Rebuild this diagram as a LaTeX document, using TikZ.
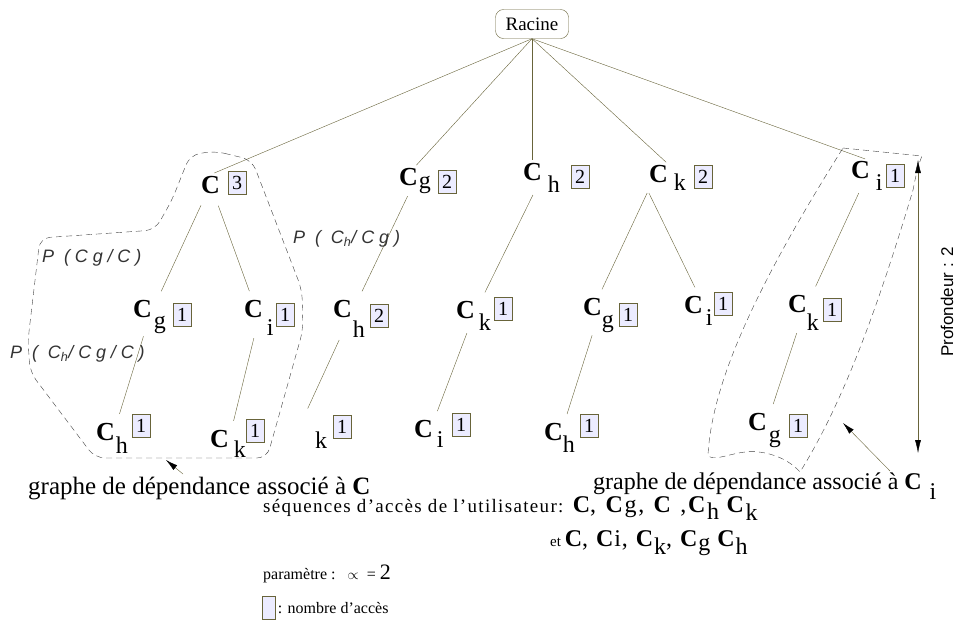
\documentclass[tikz,border=0pt]{standalone}
\usepackage{fontspec}
\setmainfont{Liberation Serif}
\setsansfont{Liberation Sans}
\usetikzlibrary{arrows.meta}
\definecolor{olivel}{RGB}{104,100,58}
\definecolor{boxfill}{RGB}{236,236,255}
\newcommand{\cx}[3]{C\hspace{#1pt}\raisebox{-#2pt}{\mdseries\fontsize{24}{24}\selectfont #3}}

\begin{document}
\begin{tikzpicture}[x=1pt,y=-1pt,>=Latex,cn/.style={font=\bfseries\fontsize{26}{26}\selectfont,inner sep=1pt,anchor=base west},cnt/.style={draw=olivel,fill=boxfill,font=\fontsize{20}{20}\selectfont,minimum width=18pt,minimum height=23pt,inner sep=0pt},link/.style={draw=olivel,shorten <=2pt,shorten >=8pt},region/.style={draw=black!75,dash pattern=on 6pt off 4pt},plab/.style={font=\sffamily\itshape\fontsize{18}{18}\selectfont\addfontfeature{LetterSpace=27},text=black!80,anchor=base west,inner sep=0pt},txt/.style={anchor=base west,inner sep=0pt},arr/.style={draw=olivel,-{Latex[length=12pt,width=6pt,black]}}]
\useasboundingbox (0,0) rectangle (957,622);
\node[draw=olivel,rounded corners=8pt,minimum width=73pt,minimum height=29pt,inner sep=2pt,font=\fontsize{19}{19}\selectfont] (rac) at (532,24) {Racine};
% premier niveau
\node[cn] (c) at (200,193) {C};\node[cnt] (nc) at (237,183) {3};
\node[cn] (cg) at (398,185) {\cx{1}{3}{g}};\node[cnt] (ncg) at (447,182) {2};
\node[cn] (ch) at (522,180) {\cx{6}{12}{h}};\node[cnt] (nch) at (580,177) {2};
\node[cn] (ck) at (648,182) {\cx{6}{8}{k}};\node[cnt] (nck) at (703,177) {2};
\node[cn] (ci) at (850,178) {\cx{6}{12}{i}};\node[cnt] (nci) at (895,176) {1};
% second niveau
\node[cn] (c-g) at (132,317) {\cx{2}{11}{g}};\node[cnt] (nc-g) at (182,315) {1};
\node[cn] (c-i) at (243,317) {\cx{4}{18}{i}};\node[cnt] (nc-i) at (285,315) {1};
\node[cn] (cg-h) at (332,317) {\cx{1}{20}{h}};\node[cnt] (ncg-h) at (379,316) {2};
\node[cn] (ch-k) at (455,318) {\cx{4}{12}{k}};\node[cnt] (nch-k) at (503,309) {1};
\node[cn] (ck-g) at (582,315) {\cx{0}{12}{g}};\node[cnt] (nck-g) at (628,315) {1};
\node[cn] (ck-i) at (683,313) {\cx{3}{12}{i}};\node[cnt] (nck-i) at (723,304) {1};
\node[cn] (ci-k) at (787,312) {\cx{0}{18}{k}};\node[cnt] (nci-k) at (832,310) {1};
% troisieme niveau
\node[cn] (c-g-h) at (95,440) {\cx{1}{13}{h}};\node[cnt] (nc-g-h) at (141,426) {1};
\node[cn] (c-i-k) at (209,447) {\cx{5}{10}{k}};\node[cnt] (nc-i-k) at (255,431) {1};
\coordinate (cg-h-k) at (296,434);\node[txt,font=\fontsize{24}{24}\selectfont] (kseul) at (315,448) {k};\node[cnt] (ncg-h-k) at (342,427) {1};
\node[cn] (ch-k-i) at (413,437) {\cx{4}{10}{i}};\node[cnt] (nch-k-i) at (461,425) {1};
\node[cn] (ck-g-h) at (543,440) {\cx{0}{12}{h}};\node[cnt] (nck-g-h) at (589,426) {1};
\node[cn] (ci-k-g) at (747,430) {\cx{2}{12}{g}};\node[cnt] (nci-k-g) at (798,426) {1};
% liens
\draw[draw=olivel,shorten >=4pt] (rac.south) -- (c.north);
\foreach \n in {cg,ck,ci} \draw[draw=olivel,shorten >=2pt] (rac.south) -- (\n.north);
\draw[draw=olivel,shorten >=2pt] (rac.south) -- (rac.south |- ch.north);
\draw[link,shorten <=12pt] (c) -- (c-g);\draw[link,shorten <=12pt] (c) -- (c-i);\draw[link] (c-g) -- (c-g-h);\draw[link] (c-i) -- (c-i-k);
\draw[link] (cg) -- (cg-h);\draw[link,shorten >=28pt] (cg-h) -- (cg-h-k);\draw[link] (ch) -- (ch-k);\draw[link] (ch-k) -- (ch-k-i);
\draw[link] (ck.south west) -- (ck-g.north);\draw[link] (ck.south west) -- (ck-i.north);\draw[link] (ck-g) -- (ck-g-h);\draw[link] (ci) -- (ci-k);\draw[link] (ci-k) -- (ci-k-g);
% graphes de dependance
\draw[region,rounded corners=10pt] (215,151) -- (252,160) -- (302,290) -- (303,330) -- (267,458) -- (95,458) -- (30,372) -- (28,340) -- (40,238) -- (155,230) -- (172,200) -- (190,155) -- cycle;
\draw[region] (843,148) -- (922,156) .. controls (918,165) and (916,175) .. (913,190) .. controls (880,300) and (845,400) .. (800,472) .. controls (785,455) and (760,450) .. (745,452) .. controls (728,454) and (712,462) .. (708,455) .. controls (712,380) and (760,280) .. (843,148);
\node[plab] (p1) at (42,262) {P (Cg/C)};
\node[plab] (p2) at (10,358) {P ( C\textsubscript{h}/Cg/C)};
\node[plab] (p3) at (293,243) {P ( C\textsubscript{h}/Cg)};
% profondeur
\coordinate (ptop) at (918,160);\coordinate (pbas) at (918,453);
\draw[draw=olivel,{Latex[length=13pt,width=6pt,black]}-{Latex[length=13pt,width=6pt,black]}] (ptop) -- (pbas);
\node[rotate=90,font=\sffamily\fontsize{17}{17}\selectfont] (prof) at (947,302) {Profondeur : 2};
% legendes
\node[txt,font=\fontsize{25}{25}\selectfont] (lab1) at (28,494) {graphe de dépendance associé à \textbf{C}};
\node[txt,font=\fontsize{24}{24}\selectfont] (lab2) at (593,489) {graphe de dépendance associé à \textbf{C}\hspace{8pt}\raisebox{-10pt}{i}};
\coordinate (fl1) at (183,474);\coordinate (fl1b) at (166,460);\draw[arr] (fl1) -- (fl1b);
\coordinate (fl2) at (890,471);\coordinate (fl2b) at (843,423);\draw[arr] (fl2) -- (fl2b);
\node[txt,font=\fontsize{19}{19}\selectfont\addfontfeature{LetterSpace=7}] (seq1) at (263,512) {séquences d'accès de l'utilisateur: {\fontsize{24}{24}\selectfont\textbf{C}, \textbf{C}g, \textbf{C}\ ,\textbf{C}\raisebox{-7pt}{h}\ \textbf{C}\raisebox{-8pt}{k}}};
\node[txt,font=\fontsize{15}{15}\selectfont] (seq2) at (550,546) {et {\fontsize{24}{24}\selectfont\addfontfeature{LetterSpace=4}\textbf{C}, \textbf{C}i, \textbf{C}\raisebox{-8pt}{k}, \textbf{C}\raisebox{-4pt}{g}\ \textbf{C}\raisebox{-8pt}{h}}};
\node[txt,font=\fontsize{16}{16}\selectfont] (par) at (263,579) {paramètre :\ \ \ {\Large$\propto$}\ \ =\ {\fontsize{22}{22}\selectfont 2}};
\node[cnt,minimum width=13pt] (lbox) at (269,608) {};\node[anchor=west,inner sep=2pt,font=\fontsize{16}{16}\selectfont] (leg) at (lbox.east) {: nombre d'accès};
\end{tikzpicture}
\end{document}
